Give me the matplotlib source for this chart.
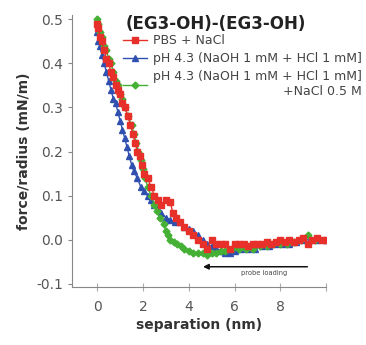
import matplotlib.pyplot as plt

# PBS + NaCl
red_x = [0.0, 0.05, 0.1, 0.2, 0.3, 0.4, 0.5, 0.6, 0.7, 0.8, 0.9, 1.0, 1.1, 1.2, 1.35, 1.45, 1.55,
         1.65, 1.75, 1.85, 1.95, 2.05, 2.2, 2.35, 2.5, 2.65, 2.8, 3.0, 3.2, 3.3, 3.45, 3.6, 3.8, 4.0,
         4.2, 4.4, 4.6, 4.8, 5.0, 5.2, 5.4, 5.6, 5.8, 6.0, 6.2, 6.4, 6.6, 6.8, 7.0, 7.2, 7.4, 7.6,
         7.8, 8.0, 8.2, 8.4, 8.6, 8.8, 9.0, 9.2, 9.4, 9.6, 9.8, 10.0]
red_y = [0.49, 0.48, 0.46, 0.45, 0.43, 0.41, 0.40, 0.38, 0.37, 0.35, 0.34, 0.33, 0.31, 0.30, 0.28,
         0.26, 0.24, 0.22, 0.20, 0.19, 0.17, 0.15, 0.14, 0.12, 0.10, 0.09, 0.08, 0.09, 0.085, 0.06,
         0.05, 0.04, 0.03, 0.02, 0.01, 0.0, -0.01, -0.02, 0.0, -0.01, -0.01, -0.01, -0.02, -0.01,
         -0.01, -0.01, -0.015, -0.01, -0.01, -0.01, -0.005, -0.01, -0.005, 0.0, -0.005, 0.0,
         -0.005, 0.0, 0.005, -0.01, 0.0, 0.005, 0.0, 0.0]

# pH 4.3 (NaOH 1 mM + HCl 1 mM)
blue_x = [0.0, 0.05, 0.1, 0.2, 0.3, 0.4, 0.5, 0.6, 0.7, 0.8, 0.9, 1.0, 1.1, 1.2, 1.3, 1.4, 1.5,
          1.6, 1.75, 1.9, 2.05, 2.2, 2.35, 2.5, 2.65, 2.8, 3.0, 3.2, 3.4, 3.6, 3.8, 4.0, 4.2, 4.4,
          4.6, 4.8, 5.0, 5.2, 5.4, 5.6, 5.8, 6.0, 6.3, 6.6, 6.9, 7.2, 7.5, 7.8, 8.1, 8.4, 8.7,
          9.0, 9.3, 9.6, 10.0]
blue_y = [0.47, 0.45, 0.44, 0.42, 0.40, 0.38, 0.36, 0.34, 0.32, 0.31, 0.29, 0.27, 0.25, 0.23,
          0.21, 0.19, 0.17, 0.155, 0.14, 0.12, 0.11, 0.10, 0.09, 0.08, 0.07, 0.06, 0.05, 0.045,
          0.04, 0.04, 0.03, 0.025, 0.02, 0.01, 0.0, -0.01, -0.015, -0.02, -0.025, -0.03, -0.03,
          -0.025, -0.02, -0.02, -0.02, -0.015, -0.015, -0.01, -0.01, -0.01, -0.005, 0.0, 0.0,
          0.0, 0.0]

# pH 4.3 (NaOH 1 mM + HCl 1 mM) + NaCl 0.5 M
green_x = [0.0, 0.05, 0.1, 0.2, 0.3, 0.4, 0.5, 0.6, 0.7, 0.8, 0.9, 1.0, 1.1, 1.2, 1.35, 1.5, 1.6,
           1.7, 1.8, 1.9, 2.0, 2.1, 2.2, 2.35, 2.5, 2.6, 2.75, 2.9, 3.0, 3.1, 3.2, 3.35, 3.5, 3.65,
           3.8, 4.0, 4.2, 4.4, 4.6, 4.8, 5.0, 5.2, 5.4, 5.6, 5.9, 6.2, 6.5, 6.8, 7.1, 7.4, 7.7,
           8.0, 8.3, 8.6, 8.9, 9.2, 9.5]
green_y = [0.50, 0.49, 0.47, 0.46, 0.44, 0.43, 0.41, 0.40, 0.38, 0.36, 0.35, 0.33, 0.32, 0.30,
           0.28, 0.26, 0.24, 0.22, 0.20, 0.18, 0.16, 0.14, 0.12, 0.10, 0.08, 0.065, 0.05, 0.035,
           0.02, 0.01, 0.0, -0.005, -0.01, -0.015, -0.02, -0.025, -0.03, -0.03, -0.03, -0.035,
           -0.03, -0.03, -0.025, -0.025, -0.02, -0.02, -0.02, -0.02, -0.015, -0.015, -0.01,
           -0.01, -0.01, -0.005, 0.0, 0.01, 0.0]

labels = ["PBS + NaCl",
          "pH 4.3 (NaOH 1 mM + HCl 1 mM]",
          "pH 4.3 (NaOH 1 mM + HCl 1 mM]\n+NaCl 0.5 M"]

fig = plt.figure(figsize=(3.66, 3.45), dpi=100)
ax = fig.add_axes([0.197, 0.168, 0.694, 0.789])

ax.plot(red_x, red_y, "-s", color="#e8302a", ms=4, lw=1, label=labels[0], zorder=3)
ax.plot(blue_x, blue_y, "-^", color="#3050b0", ms=4, lw=1, label=labels[1], zorder=2)
ax.plot(green_x, green_y, "-D", color="#45b035", ms=3.5, lw=1, label=labels[2], zorder=2)

ax.set_xlim(-1.1, 10)
ax.set_ylim(-0.107, 0.51)
ax.set_xticks([0, 2, 4, 6, 8, 10])
ax.set_xticklabels(["0", "2", "4", "6", "8", ""])
ax.set_yticks([-0.1, 0.0, 0.1, 0.2, 0.3, 0.4, 0.5])
ax.set_yticklabels(["-0.1", "0.0", "0.1", "0.2", "0.3", "0.4", "0.5"])
for s in ["top", "right"]:
    ax.spines[s].set_visible(False)
for s in ["left", "bottom"]:
    ax.spines[s].set_color("#888888")
ax.tick_params(axis="y", direction="out", length=3, colors="#888888", labelcolor="#555555",
               labelsize=10)
ax.tick_params(axis="x", direction="inout", length=6, colors="#aaaaaa", labelcolor="#555555",
               labelsize=10, pad=6)

ax.set_xlabel("separation (nm)", fontsize=10, fontweight="bold", color="#333333", labelpad=3)
ax.set_ylabel("force/radius (mN/m)", fontsize=10, fontweight="bold", color="#333333",
              labelpad=4)

# title of the legend block
ax.text(0.209, 0.968, "(EG3-OH)-(EG3-OH)", transform=ax.transAxes, fontsize=12,
        fontweight="bold", color="#222222", ha="left", va="center")

leg = ax.legend(loc="upper left", bbox_to_anchor=(0.2, 0.93), frameon=False, fontsize=9,
                handlelength=1.9, handletextpad=0.5, labelspacing=0.4, borderaxespad=0,
                borderpad=0)
for t in leg.get_texts():
    t.set_color("#444444")
leg.get_texts()[2].set_multialignment("right")

ax.annotate("", xy=(4.5, -0.061), xytext=(9.3, -0.061),
            arrowprops=dict(arrowstyle="-|>", color="#111111", lw=1.1, mutation_scale=8))
ax.text(7.3, -0.075, "probe loading", fontsize=4.8, ha="center", va="center", color="#444444")

fig.savefig("out.png", dpi=100)
